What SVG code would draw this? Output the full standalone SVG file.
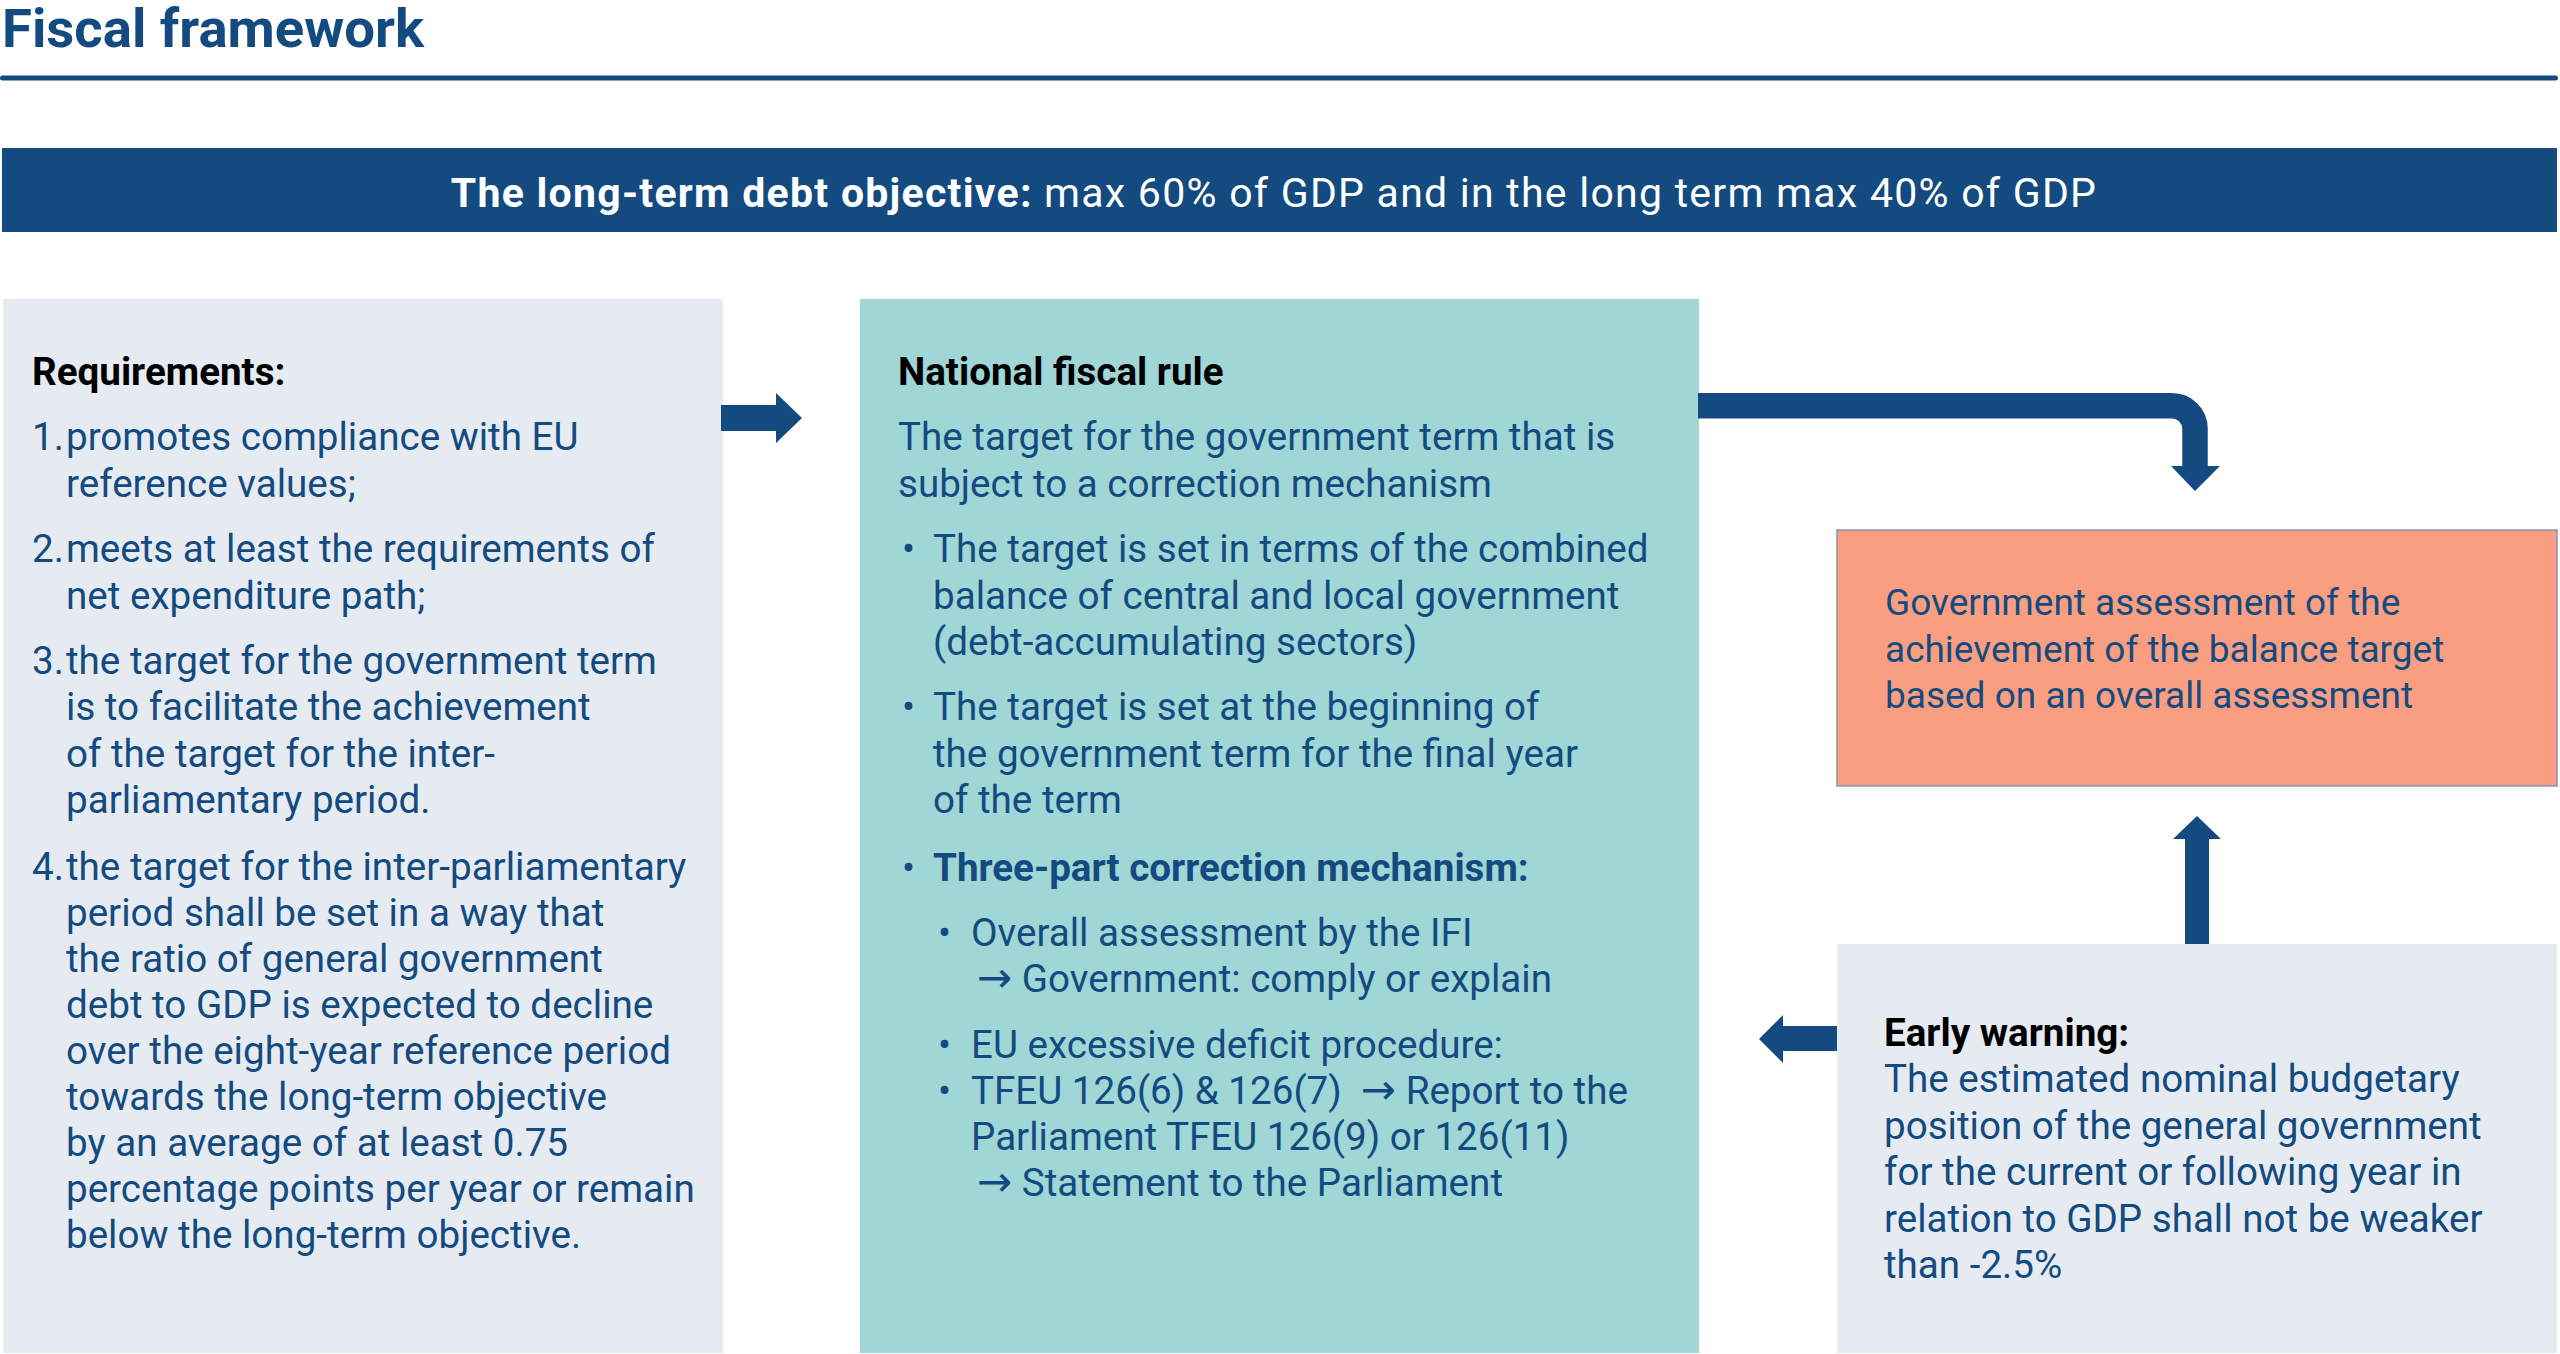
<svg xmlns="http://www.w3.org/2000/svg" width="2560" height="1354" viewBox="0 0 2560 1354">
<style>
text{font-family:Roboto,"Liberation Sans",sans-serif;}
.body{font-size:38.6px;fill:#134a7f;}
.head{font-size:38.6px;font-weight:bold;fill:#000;}
.bb{font-weight:bold;}
.ar{font-family:"DejaVu Sans",sans-serif;font-size:42px;}
.small{font-size:37px;}
.arrow{fill:#134a7f;}
</style>
<rect width="2560" height="1354" fill="#ffffff"/>
<g id="title">
<text x="2" y="47" style="font-size:54.5px;font-weight:bold;fill:#134a7f">Fiscal framework</text>
<rect x="0" y="75.5" width="2558" height="5" rx="2.5" fill="#134a7f"/>
</g>
<g id="banner">
<rect x="2" y="148" width="2555" height="84" fill="#134a7f"/>
<text x="1274" y="207" text-anchor="middle" style="font-size:41px;letter-spacing:1.25px;fill:#ffffff"><tspan class="bb">The long-term debt objective:</tspan> max 60% of GDP and in the long term max 40% of GDP</text>
</g>
<g id="requirements">
<rect x="3" y="299" width="720" height="1054" fill="#e6ebf2"/>
<text class="head" x="32" y="385">Requirements:</text>
<text class="body" x="32" y="450">1.</text>
<text class="body" x="66" y="450">promotes compliance with EU</text>
<text class="body" x="66" y="497">reference values;</text>
<text class="body" x="32" y="562">2.</text>
<text class="body" x="66" y="562">meets at least the requirements of</text>
<text class="body" x="66" y="609">net expenditure path;</text>
<text class="body" x="32" y="674">3.</text>
<text class="body" x="66" y="674">the target for the government term</text>
<text class="body" x="66" y="720">is to facilitate the achievement</text>
<text class="body" x="66" y="767">of the target for the inter-</text>
<text class="body" x="66" y="813">parliamentary period.</text>
<text class="body" x="32" y="880">4.</text>
<text class="body" x="66" y="880">the target for the inter-parliamentary</text>
<text class="body" x="66" y="926">period shall be set in a way that</text>
<text class="body" x="66" y="972">the ratio of general government</text>
<text class="body" x="66" y="1018">debt to GDP is expected to decline</text>
<text class="body" x="66" y="1064">over the eight-year reference period</text>
<text class="body" x="66" y="1110">towards the long-term objective</text>
<text class="body" x="66" y="1156">by an average of at least 0.75</text>
<text class="body" x="66" y="1202">percentage points per year or remain</text>
<text class="body" x="66" y="1248">below the long-term objective.</text>
</g>
<g id="national-fiscal-rule">
<rect x="860" y="299" width="839" height="1054" fill="#a0d6d5"/>
<text class="head" x="898" y="385">National fiscal rule</text>
<text class="body" x="898" y="450">The target for the government term that is</text>
<text class="body" x="898" y="497">subject to a correction mechanism</text>
<text class="body" x="902" y="562">•</text>
<text class="body" x="933" y="562">The target is set in terms of the combined</text>
<text class="body" x="933" y="609">balance of central and local government</text>
<text class="body" x="933" y="655">(debt-accumulating sectors)</text>
<text class="body" x="902" y="720">•</text>
<text class="body" x="933" y="720">The target is set at the beginning of</text>
<text class="body" x="933" y="767">the government term for the final year</text>
<text class="body" x="933" y="813">of the term</text>
<text class="body" x="902" y="881">•</text>
<text class="body bb" x="933" y="881">Three-part correction mechanism:</text>
<text class="body" x="938" y="946">•</text>
<text class="body" x="971" y="946">Overall assessment by the IFI</text>
<text class="body" x="977" y="992"><tspan class="ar">→</tspan> Government: comply or explain</text>
<text class="body" x="938" y="1058">•</text>
<text class="body" x="971" y="1058">EU excessive deficit procedure:</text>
<text class="body" x="938" y="1104">•</text>
<text class="body" x="971" y="1104" xml:space="preserve">TFEU 126(6) &amp; 126(7)  <tspan class="ar">→</tspan> Report to the</text>
<text class="body" x="971" y="1150">Parliament TFEU 126(9) or 126(11)</text>
<text class="body" x="977" y="1196"><tspan class="ar">→</tspan> Statement to the Parliament</text>
</g>
<g id="government-assessment">
<rect x="1837" y="530" width="720" height="256" fill="#fa9e82" stroke="#8795ad" stroke-width="1.5"/>
<text class="body small" x="1885" y="615">Government assessment of the</text>
<text class="body small" x="1885" y="662">achievement of the balance target</text>
<text class="body small" x="1885" y="708">based on an overall assessment</text>
</g>
<g id="early-warning">
<rect x="1837" y="944" width="720" height="409" fill="#e6ebf2"/>
<text class="head" x="1884" y="1046">Early warning:</text>
<text class="body" x="1884" y="1092">The estimated nominal budgetary</text>
<text class="body" x="1884" y="1139">position of the general government</text>
<text class="body" x="1884" y="1185">for the current or following year in</text>
<text class="body" x="1884" y="1232">relation to GDP shall not be weaker</text>
<text class="body" x="1884" y="1278">than -2.5%</text>
</g>
<g id="connectors">
<polygon class="arrow" points="721,405 776,405 776,393 802,418 776,443 776,431 721,431"/>
<path d="M1698,405.8 H2172 A23,23 0 0 1 2195,428.8 V467" fill="none" stroke="#134a7f" stroke-width="25.5"/>
<polygon class="arrow" points="2171,466 2220,466 2195,491"/>
<polygon class="arrow" points="2185,944 2185,839 2173,839 2197,816 2221,839 2209,839 2209,944"/>
<polygon class="arrow" points="1837,1026 1783,1026 1783,1015 1759,1039 1783,1063 1783,1051 1837,1051"/>
</g>
</svg>
